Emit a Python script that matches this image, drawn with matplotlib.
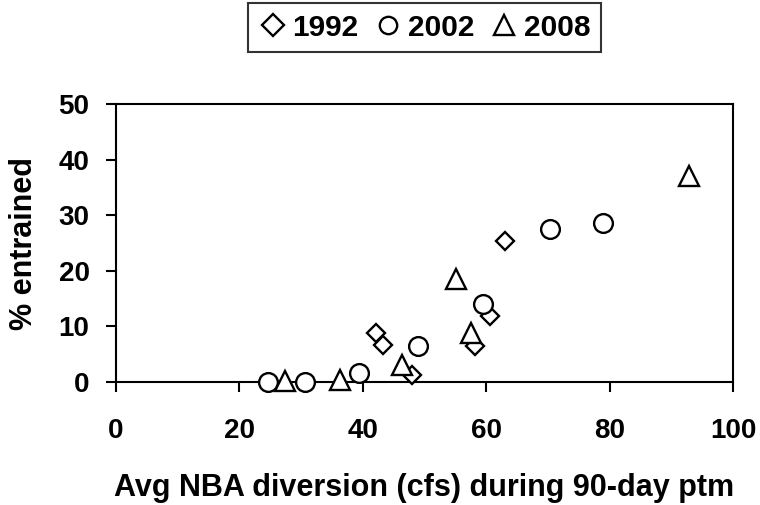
import matplotlib
matplotlib.use("Agg")
import matplotlib.pyplot as plt

# % entrained vs average NBA diversion, by survey year
x_1992 = [42.2, 43.3, 47.9, 58.2, 60.6, 63.0]
y_1992 = [8.8, 6.7, 1.3, 6.4, 11.8, 25.3]

x_2002 = [24.7, 30.6, 39.4, 49.0, 59.5, 70.3, 79.0]
y_2002 = [0.0, 0.0, 1.6, 6.4, 14.1, 27.6, 28.6]

x_2008 = [27.4, 36.3, 46.3, 55.1, 57.6, 92.8]
y_2008 = [0.2, 0.4, 3.1, 18.5, 8.8, 37.1]

x_ticks = [0, 20, 40, 60, 80, 100]
y_ticks = [0, 10, 20, 30, 40, 50]

plt.rcParams['font.family'] = ['Liberation Sans', 'DejaVu Sans']
plt.rcParams['font.weight'] = 'bold'

fig = plt.figure(figsize=(7.6, 5.05), dpi=100)
ax = fig.add_axes([0.1526, 0.2436, 0.8119, 0.5504])

ax.plot(x_1992, y_1992, linestyle='none', marker='D', markersize=9.5,
        markerfacecolor='white', markeredgecolor='black', markeredgewidth=1.7,
        label='1992', clip_on=False, zorder=3)
ax.plot(x_2002, y_2002, linestyle='none', marker='o', markersize=13.5,
        markerfacecolor='white', markeredgecolor='black', markeredgewidth=1.7,
        label='2002', clip_on=False, zorder=3)
ax.plot(x_2008, y_2008, linestyle='none', marker='^', markersize=14,
        markerfacecolor='white', markeredgecolor='black', markeredgewidth=1.7,
        label='2008', clip_on=False, zorder=3)

ax.set_xlim(0, 100)
ax.set_ylim(0, 50)
ax.set_xticks(x_ticks)
ax.set_yticks(y_ticks)

# plot area box
for side in ['left', 'right', 'top', 'bottom']:
    ax.spines[side].set_linewidth(1.5)
    ax.spines[side].set_color('black')

ax.tick_params(axis='both', direction='out', length=7, width=1.5,
               labelsize=20, colors='black')
ax.tick_params(axis='x', pad=19)
ax.tick_params(axis='y', pad=12)
for lab in ax.get_xticklabels() + ax.get_yticklabels():
    lab.set_fontweight('bold')

ax.set_xlabel('Avg NBA diversion (cfs) during 90-day ptm', fontsize=22,
              fontweight='bold', labelpad=21)
ax.set_ylabel('% entrained', fontsize=22, fontweight='bold', labelpad=14)

leg = fig.legend(loc='center', bbox_to_anchor=(0.558, 0.945), ncol=3,
                 fontsize=21.5, frameon=True, fancybox=False, handlelength=1.0,
                 handletextpad=0.15, columnspacing=0.5, borderpad=0.35)
leg.get_frame().set_edgecolor('black')
leg.get_frame().set_linewidth(1.5)
for t in leg.get_texts():
    t.set_fontweight('bold')
# legend symbols are drawn a bit larger than the plot markers
for h, ms in zip(leg.legend_handles, [11.5, 12.5, 14]):
    h.set_markersize(ms)

fig.savefig('out.png', dpi=100, facecolor='white')
